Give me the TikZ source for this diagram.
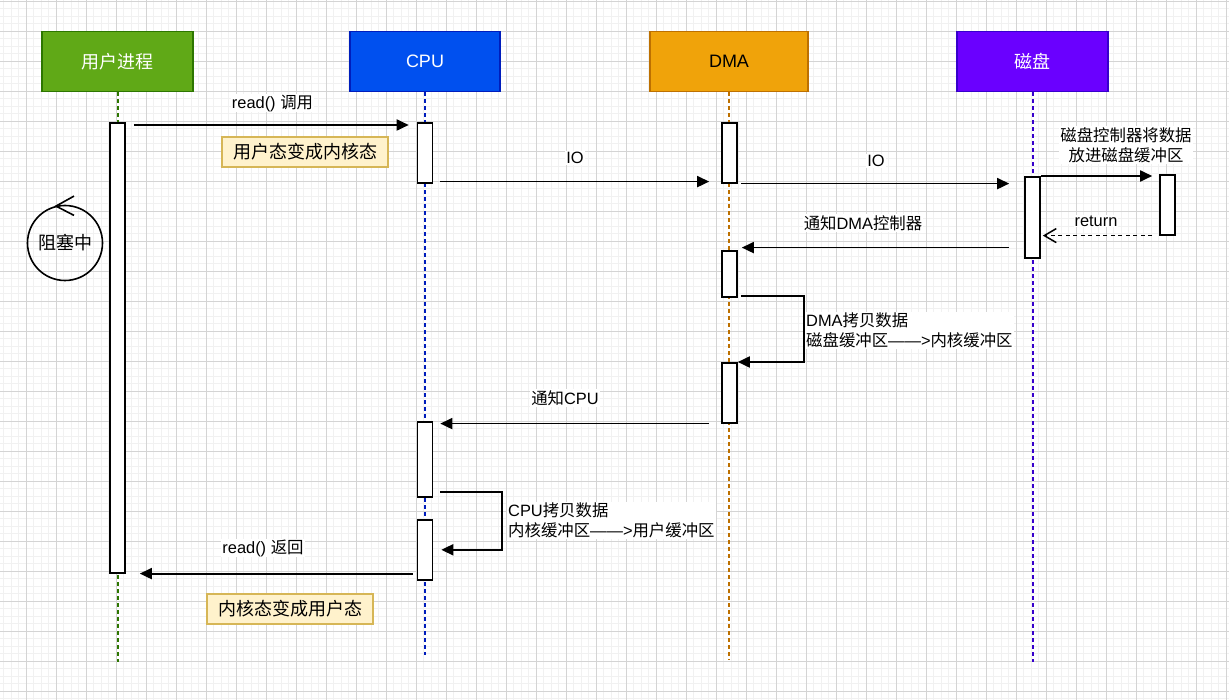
\documentclass[tikz,border=0pt]{standalone}
\usepackage{fontspec}
\setmainfont{Liberation Sans}
\newfontfamily\cjk{Noto Sans CJK SC}
\usetikzlibrary{arrows.meta,calc}
\definecolor{userfill}{HTML}{60A917}
\definecolor{userline}{HTML}{2D7600}
\definecolor{cpufill}{HTML}{0050EF}
\definecolor{cpuline}{HTML}{001DBC}
\definecolor{dmafill}{HTML}{F0A30A}
\definecolor{dmaline}{HTML}{BD7000}
\definecolor{diskfill}{HTML}{6A00FF}
\definecolor{diskline}{HTML}{3700CC}
\definecolor{notefill}{HTML}{FFF2CC}
\definecolor{notestroke}{HTML}{D6B656}
\definecolor{gridmajor}{HTML}{D4D4D4}
\definecolor{gridminor}{HTML}{F1F1F1}
\begin{document}
\begin{tikzpicture}[x=1pt,y=-1pt,
  hdr/.style={draw, line width=1.6pt, minimum height=60pt, inner sep=0pt, font=\fontsize{18}{20}\selectfont\cjk},
  act/.style={draw=black, fill=white, line width=1.6pt, minimum width=15pt, inner sep=0pt, anchor=north},
  msg/.style={line width=1.8pt, -{Triangle[length=12pt,width=11pt]}},
  retmsg/.style={line width=1.5pt, dash pattern=on 4pt off 3.5pt, -{Straight Barb[length=12pt,width=14pt]}},
  lbl/.style={fill=white, inner sep=1pt, font=\fontsize{16.4}{19.5}\selectfont},
  notebox/.style={draw=notestroke, fill=notefill, line width=1.6pt, minimum width=166pt, minimum height=30pt, inner sep=0pt, font=\fontsize{18}{20}\selectfont\cjk},
  life/.style={line width=2pt, dash pattern=on 4pt off 3pt}
]
\useasboundingbox (0,0) rectangle (1229,700);
\fill[white] (0,0) rectangle (1229,700);
\begin{scope}
\clip (0,0) rectangle (1229,700);
\foreach \i in {0,...,163} \draw[gridminor, line width=1pt] ({3.5+7.5*\i},0) -- ({3.5+7.5*\i},700);
\foreach \j in {0,...,93} \draw[gridminor, line width=1pt] (0,{1.3+7.5*\j}) -- (1229,{1.3+7.5*\j});
\foreach \i in {0,...,40} \draw[gridmajor, line width=1pt] ({26+30*\i},0) -- ({26+30*\i},700);
\foreach \j in {0,...,23} \draw[gridmajor, line width=1pt] (0,{1.3+30*\j}) -- (1229,{1.3+30*\j});
\end{scope}

% headers
\node[hdr, draw=userline, fill=userfill, text=white, minimum width=151pt] (hu) at (117.5,61.5) {用户进程};
\node[hdr, draw=cpuline, fill=cpufill, text=white, minimum width=150pt, font=\fontsize{18}{20}\selectfont] (hc) at (425,61.5) {CPU};
\node[hdr, draw=dmaline, fill=dmafill, text=black, minimum width=158pt, font=\fontsize{18}{20}\selectfont] (hd) at (729,61.5) {DMA};
\node[hdr, draw=diskline, fill=diskfill, text=white, minimum width=151pt] (hk) at (1032.5,61.5) {磁盘};

% lifelines
\coordinate (eu) at (117.5,662);
\coordinate (ec) at (425,655);
\coordinate (ed) at (729,660);
\coordinate (ek) at (1032.5,662);
\draw[life, userline] (hu.south) -- (eu);
\draw[life, cpuline] (hc.south) -- (ec);
\draw[life, dmaline] (hd.south) -- (ed);
\draw[life, diskline] (hk.south) -- (ek);

% activations
\node[act, minimum height=450pt] (u1) at (117.5,122) {};
\node[act, minimum height=60pt] (c1) at (425,122) {};
\node[act, minimum height=60pt] (d1) at (729.5,122) {};
\node[act, minimum height=81pt] (k1) at (1032.5,176) {};
\node[act, minimum height=60pt] (k2) at (1167.5,174) {};
\node[act, minimum height=46pt] (d2) at (729.5,250) {};
\node[act, minimum height=60pt] (d3) at (729.5,362) {};
\node[act, minimum height=75pt] (c2) at (425,421) {};
\node[act, minimum height=60pt] (c3) at (425,519) {};

% blocking circle
\node[draw, circle, line width=1.6pt, minimum size=75pt, inner sep=0pt, font=\fontsize{18}{20}\selectfont\cjk] (blk) at (65,243) {阻塞中};
\draw[line width=1.6pt] ([shift={(9,-8.6)}]blk.north) -- ([shift={(-9,1.4)}]blk.north) -- ([shift={(9,10.7)}]blk.north);

% messages
\draw[msg] ([xshift=8pt,yshift=-3pt]u1.north east) -- ([xshift=-8pt,yshift=-3pt]c1.north west);
\draw[msg] ([xshift=7pt,yshift=2pt]c1.south east) -- ([xshift=-12pt,yshift=2pt]d1.south west);
\draw[msg] ([xshift=3pt]d1.south east) -- ([xshift=-15pt]k1.west |- d1.south east);
\draw[msg] (k1.north east) -- ([xshift=-7pt]k2.west |- k1.north east);
\draw[retmsg] ([xshift=-7pt]k2.south west) -- ([xshift=2pt]k1.east |- k2.south west);
\coordinate (n1) at ([xshift=-15pt,yshift=11pt]k1.south west);
\draw[msg] (n1) -- ([xshift=4pt]d2.east |- n1);
\draw[msg] ([xshift=3pt,yshift=1.5pt]d2.south east) -- ++(63,0) |- (d3.north east);
\draw[msg] ([xshift=-12pt]d3.south west) -- ([xshift=7pt]c2.north east |- d3.south west);
\draw[msg] ([xshift=7pt,yshift=5.3pt]c2.south east) -- ++(62,0) |- ([xshift=8pt]c3.east);
\draw[msg] ([xshift=-4pt]c3.west |- u1.south) -- ([xshift=14pt]u1.south east);

% labels
\node[lbl] (l1) at (272.5,103) {read() {\cjk 调用}};
\node[lbl] (l2) at (575,158) {IO};
\node[lbl] (l3) at (876,161) {IO};
\node[lbl, align=center, font=\fontsize{16.4}{20}\selectfont\cjk] (l4) at (1126,145) {磁盘控制器将数据\\放进磁盘缓冲区};
\node[lbl] (l5) at (1096,221) {return};
\node[lbl] (l6) at (863,223) {{\cjk 通知}DMA{\cjk 控制器}};
\node[lbl, align=left, anchor=west] (l7) at (805,330.5) {DMA{\cjk 拷贝数据}\\{\cjk 磁盘缓冲区}——>{\cjk 内核缓冲区}};
\node[lbl] (l8) at (565,398) {{\cjk 通知}CPU};
\node[lbl, align=left, anchor=west] (l9) at (507,520.5) {CPU{\cjk 拷贝数据}\\{\cjk 内核缓冲区}——>{\cjk 用户缓冲区}};
\node[lbl] (l10) at (263,548) {read() {\cjk 返回}};

% notes
\node[notebox] (nt1) at (305,152) {用户态变成内核态};
\node[notebox] (nt2) at (290,609) {内核态变成用户态};
\end{tikzpicture}
\end{document}
